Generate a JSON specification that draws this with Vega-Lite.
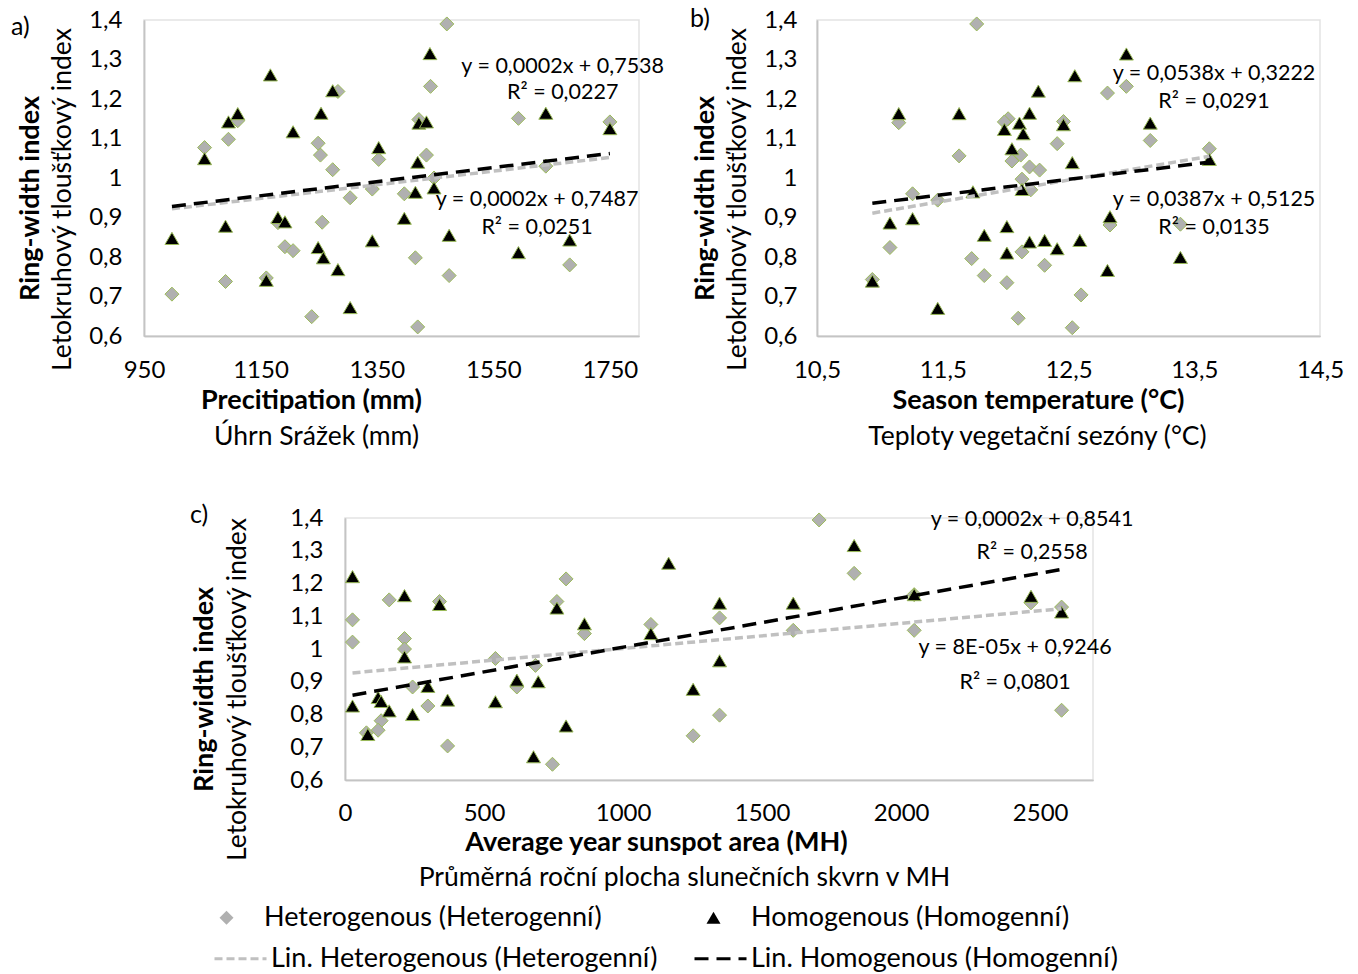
{
  "$schema": "https://vega.github.io/schema/vega-lite/v6.json",
  "autosize": {"type": "none"},
  "padding": {"left": 144, "top": 20, "right": 1214, "bottom": 954},
  "bounds": "flush",
  "spacing": 498,
  "config": {
    "font": "Lato",
    "view": {"stroke": "#e3e3e3", "strokeWidth": 1.5},
    "axis": {"grid": false, "ticks": false, "tickSize": 0, "labelFont": "Lato", "labelFontSize": 24, "labelColor": "#000000", "titleFont": "Lato", "titleFontSize": 26.5, "titleColor": "#000000", "domainColor": "#c4c4c4", "domainWidth": 1.5, "labelFlush": false, "labelOverlap": false},
    "title": {"font": "Lato", "fontSize": 25, "fontWeight": "normal", "color": "#000000"},
    "legend": {"labelFont": "Lato", "labelFontSize": 27, "labelColor": "#000000", "labelLimit": 600}
  },
  "datasets": {
    "a_pts": [
      {"series": "Heterogenous (Heterogenní)", "x": 1470, "y": 1.39},
      {"series": "Heterogenous (Heterogenní)", "x": 1442, "y": 1.232},
      {"series": "Heterogenous (Heterogenní)", "x": 1283, "y": 1.219},
      {"series": "Heterogenous (Heterogenní)", "x": 1111, "y": 1.145},
      {"series": "Heterogenous (Heterogenní)", "x": 1593, "y": 1.151},
      {"series": "Heterogenous (Heterogenní)", "x": 1422, "y": 1.148},
      {"series": "Heterogenous (Heterogenní)", "x": 1750, "y": 1.142},
      {"series": "Heterogenous (Heterogenní)", "x": 1095, "y": 1.098},
      {"series": "Heterogenous (Heterogenní)", "x": 1054, "y": 1.077},
      {"series": "Heterogenous (Heterogenní)", "x": 1249, "y": 1.088},
      {"series": "Heterogenous (Heterogenní)", "x": 1253, "y": 1.058},
      {"series": "Heterogenous (Heterogenní)", "x": 1435, "y": 1.058},
      {"series": "Heterogenous (Heterogenní)", "x": 1274, "y": 1.021},
      {"series": "Heterogenous (Heterogenní)", "x": 1353, "y": 1.047},
      {"series": "Heterogenous (Heterogenní)", "x": 1640, "y": 1.03},
      {"series": "Heterogenous (Heterogenní)", "x": 1448, "y": 1.0},
      {"series": "Heterogenous (Heterogenní)", "x": 1342, "y": 0.972},
      {"series": "Heterogenous (Heterogenní)", "x": 1397, "y": 0.96},
      {"series": "Heterogenous (Heterogenní)", "x": 1304, "y": 0.95},
      {"series": "Heterogenous (Heterogenní)", "x": 1256, "y": 0.888},
      {"series": "Heterogenous (Heterogenní)", "x": 1180, "y": 0.887},
      {"series": "Heterogenous (Heterogenní)", "x": 1192, "y": 0.826},
      {"series": "Heterogenous (Heterogenní)", "x": 1206, "y": 0.816},
      {"series": "Heterogenous (Heterogenní)", "x": 1416, "y": 0.798},
      {"series": "Heterogenous (Heterogenní)", "x": 1681, "y": 0.78},
      {"series": "Heterogenous (Heterogenní)", "x": 1474, "y": 0.753},
      {"series": "Heterogenous (Heterogenní)", "x": 1090, "y": 0.738},
      {"series": "Heterogenous (Heterogenní)", "x": 1160, "y": 0.747},
      {"series": "Heterogenous (Heterogenní)", "x": 998, "y": 0.706},
      {"series": "Heterogenous (Heterogenní)", "x": 1238, "y": 0.649},
      {"series": "Heterogenous (Heterogenní)", "x": 1420, "y": 0.623},
      {"series": "Homogenous (Homogenní)", "x": 1441, "y": 1.315},
      {"series": "Homogenous (Homogenní)", "x": 1167, "y": 1.261},
      {"series": "Homogenous (Homogenní)", "x": 1274, "y": 1.221},
      {"series": "Homogenous (Homogenní)", "x": 1111, "y": 1.163},
      {"series": "Homogenous (Homogenní)", "x": 1254, "y": 1.164},
      {"series": "Homogenous (Homogenní)", "x": 1095, "y": 1.142},
      {"series": "Homogenous (Homogenní)", "x": 1640, "y": 1.164},
      {"series": "Homogenous (Homogenní)", "x": 1422, "y": 1.139},
      {"series": "Homogenous (Homogenní)", "x": 1435, "y": 1.142},
      {"series": "Homogenous (Homogenní)", "x": 1206, "y": 1.117},
      {"series": "Homogenous (Homogenní)", "x": 1750, "y": 1.125},
      {"series": "Homogenous (Homogenní)", "x": 1353, "y": 1.077},
      {"series": "Homogenous (Homogenní)", "x": 1054, "y": 1.049},
      {"series": "Homogenous (Homogenní)", "x": 1420, "y": 1.04},
      {"series": "Homogenous (Homogenní)", "x": 1448, "y": 0.975},
      {"series": "Homogenous (Homogenní)", "x": 1416, "y": 0.964},
      {"series": "Homogenous (Homogenní)", "x": 1180, "y": 0.9},
      {"series": "Homogenous (Homogenní)", "x": 1192, "y": 0.889},
      {"series": "Homogenous (Homogenní)", "x": 1397, "y": 0.898},
      {"series": "Homogenous (Homogenní)", "x": 1090, "y": 0.878},
      {"series": "Homogenous (Homogenní)", "x": 998, "y": 0.847},
      {"series": "Homogenous (Homogenní)", "x": 1474, "y": 0.855},
      {"series": "Homogenous (Homogenní)", "x": 1342, "y": 0.841},
      {"series": "Homogenous (Homogenní)", "x": 1681, "y": 0.843},
      {"series": "Homogenous (Homogenní)", "x": 1249, "y": 0.824},
      {"series": "Homogenous (Homogenní)", "x": 1258, "y": 0.798},
      {"series": "Homogenous (Homogenní)", "x": 1593, "y": 0.811},
      {"series": "Homogenous (Homogenní)", "x": 1283, "y": 0.768},
      {"series": "Homogenous (Homogenní)", "x": 1160, "y": 0.741},
      {"series": "Homogenous (Homogenní)", "x": 1304, "y": 0.672}
    ],
    "b_pts": [
      {"series": "Heterogenous (Heterogenní)", "x": 11.77, "y": 1.39},
      {"series": "Heterogenous (Heterogenní)", "x": 12.96, "y": 1.232},
      {"series": "Heterogenous (Heterogenní)", "x": 12.81, "y": 1.215},
      {"series": "Heterogenous (Heterogenní)", "x": 11.15, "y": 1.14},
      {"series": "Heterogenous (Heterogenní)", "x": 12.02, "y": 1.15},
      {"series": "Heterogenous (Heterogenní)", "x": 11.99, "y": 1.142},
      {"series": "Heterogenous (Heterogenní)", "x": 12.46, "y": 1.143},
      {"series": "Heterogenous (Heterogenní)", "x": 12.41, "y": 1.087},
      {"series": "Heterogenous (Heterogenní)", "x": 13.15, "y": 1.095},
      {"series": "Heterogenous (Heterogenní)", "x": 13.62, "y": 1.074},
      {"series": "Heterogenous (Heterogenní)", "x": 11.63, "y": 1.056},
      {"series": "Heterogenous (Heterogenní)", "x": 12.12, "y": 1.058},
      {"series": "Heterogenous (Heterogenní)", "x": 12.05, "y": 1.043},
      {"series": "Heterogenous (Heterogenní)", "x": 12.19, "y": 1.028},
      {"series": "Heterogenous (Heterogenní)", "x": 12.27, "y": 1.02},
      {"series": "Heterogenous (Heterogenní)", "x": 12.13, "y": 0.997},
      {"series": "Heterogenous (Heterogenní)", "x": 12.2, "y": 0.97},
      {"series": "Heterogenous (Heterogenní)", "x": 11.26, "y": 0.96},
      {"series": "Heterogenous (Heterogenní)", "x": 11.46, "y": 0.944},
      {"series": "Heterogenous (Heterogenní)", "x": 12.83, "y": 0.881},
      {"series": "Heterogenous (Heterogenní)", "x": 13.39, "y": 0.883},
      {"series": "Heterogenous (Heterogenní)", "x": 11.08, "y": 0.824},
      {"series": "Heterogenous (Heterogenní)", "x": 12.13, "y": 0.813},
      {"series": "Heterogenous (Heterogenní)", "x": 11.73, "y": 0.796},
      {"series": "Heterogenous (Heterogenní)", "x": 12.31, "y": 0.779},
      {"series": "Heterogenous (Heterogenní)", "x": 11.83, "y": 0.753},
      {"series": "Heterogenous (Heterogenní)", "x": 10.94, "y": 0.743},
      {"series": "Heterogenous (Heterogenní)", "x": 12.01, "y": 0.735},
      {"series": "Heterogenous (Heterogenní)", "x": 12.6, "y": 0.704},
      {"series": "Heterogenous (Heterogenní)", "x": 12.1, "y": 0.645},
      {"series": "Heterogenous (Heterogenní)", "x": 12.53, "y": 0.621},
      {"series": "Homogenous (Homogenní)", "x": 12.96, "y": 1.314},
      {"series": "Homogenous (Homogenní)", "x": 12.55, "y": 1.259},
      {"series": "Homogenous (Homogenní)", "x": 12.26, "y": 1.22},
      {"series": "Homogenous (Homogenní)", "x": 11.15, "y": 1.163},
      {"series": "Homogenous (Homogenní)", "x": 11.63, "y": 1.163},
      {"series": "Homogenous (Homogenní)", "x": 12.19, "y": 1.164},
      {"series": "Homogenous (Homogenní)", "x": 12.11, "y": 1.139},
      {"series": "Homogenous (Homogenní)", "x": 12.46, "y": 1.135},
      {"series": "Homogenous (Homogenní)", "x": 13.15, "y": 1.139},
      {"series": "Homogenous (Homogenní)", "x": 11.99, "y": 1.123},
      {"series": "Homogenous (Homogenní)", "x": 12.14, "y": 1.112},
      {"series": "Homogenous (Homogenní)", "x": 12.05, "y": 1.074},
      {"series": "Homogenous (Homogenní)", "x": 12.53, "y": 1.039},
      {"series": "Homogenous (Homogenní)", "x": 13.62, "y": 1.047},
      {"series": "Homogenous (Homogenní)", "x": 11.74, "y": 0.965},
      {"series": "Homogenous (Homogenní)", "x": 12.13, "y": 0.971},
      {"series": "Homogenous (Homogenní)", "x": 11.08, "y": 0.886},
      {"series": "Homogenous (Homogenní)", "x": 11.26, "y": 0.897},
      {"series": "Homogenous (Homogenní)", "x": 12.83, "y": 0.902},
      {"series": "Homogenous (Homogenní)", "x": 12.01, "y": 0.877},
      {"series": "Homogenous (Homogenní)", "x": 11.83, "y": 0.855},
      {"series": "Homogenous (Homogenní)", "x": 12.19, "y": 0.838},
      {"series": "Homogenous (Homogenní)", "x": 12.31, "y": 0.842},
      {"series": "Homogenous (Homogenní)", "x": 12.59, "y": 0.842},
      {"series": "Homogenous (Homogenní)", "x": 12.41, "y": 0.821},
      {"series": "Homogenous (Homogenní)", "x": 12.01, "y": 0.81},
      {"series": "Homogenous (Homogenní)", "x": 13.39, "y": 0.799},
      {"series": "Homogenous (Homogenní)", "x": 12.81, "y": 0.766},
      {"series": "Homogenous (Homogenní)", "x": 10.94, "y": 0.739},
      {"series": "Homogenous (Homogenní)", "x": 11.46, "y": 0.67}
    ],
    "c_pts": [
      {"series": "Heterogenous (Heterogenní)", "x": 1705, "y": 1.394},
      {"series": "Heterogenous (Heterogenní)", "x": 1831, "y": 1.231},
      {"series": "Heterogenous (Heterogenní)", "x": 795, "y": 1.214},
      {"series": "Heterogenous (Heterogenní)", "x": 159, "y": 1.15},
      {"series": "Heterogenous (Heterogenní)", "x": 340, "y": 1.145},
      {"series": "Heterogenous (Heterogenní)", "x": 762, "y": 1.145},
      {"series": "Heterogenous (Heterogenní)", "x": 2467, "y": 1.141},
      {"series": "Heterogenous (Heterogenní)", "x": 2047, "y": 1.166},
      {"series": "Heterogenous (Heterogenní)", "x": 27, "y": 1.089},
      {"series": "Heterogenous (Heterogenní)", "x": 1347, "y": 1.095},
      {"series": "Heterogenous (Heterogenní)", "x": 1100, "y": 1.075},
      {"series": "Heterogenous (Heterogenní)", "x": 861, "y": 1.047},
      {"series": "Heterogenous (Heterogenní)", "x": 1612, "y": 1.057},
      {"series": "Heterogenous (Heterogenní)", "x": 2047, "y": 1.057},
      {"series": "Heterogenous (Heterogenní)", "x": 214, "y": 1.032},
      {"series": "Heterogenous (Heterogenní)", "x": 27, "y": 1.021},
      {"series": "Heterogenous (Heterogenní)", "x": 214, "y": 1.0},
      {"series": "Heterogenous (Heterogenní)", "x": 541, "y": 0.971},
      {"series": "Heterogenous (Heterogenní)", "x": 685, "y": 0.95},
      {"series": "Heterogenous (Heterogenní)", "x": 243, "y": 0.884},
      {"series": "Heterogenous (Heterogenní)", "x": 618, "y": 0.884},
      {"series": "Heterogenous (Heterogenní)", "x": 298, "y": 0.826},
      {"series": "Heterogenous (Heterogenní)", "x": 1347, "y": 0.798},
      {"series": "Heterogenous (Heterogenní)", "x": 2577, "y": 0.813},
      {"series": "Heterogenous (Heterogenní)", "x": 130, "y": 0.781},
      {"series": "Heterogenous (Heterogenní)", "x": 119, "y": 0.752},
      {"series": "Heterogenous (Heterogenní)", "x": 77, "y": 0.744},
      {"series": "Heterogenous (Heterogenní)", "x": 1252, "y": 0.735},
      {"series": "Heterogenous (Heterogenní)", "x": 369, "y": 0.704},
      {"series": "Heterogenous (Heterogenní)", "x": 746, "y": 0.648},
      {"series": "Heterogenous (Heterogenní)", "x": 2577, "y": 1.128},
      {"series": "Homogenous (Homogenní)", "x": 1831, "y": 1.316},
      {"series": "Homogenous (Homogenní)", "x": 1164, "y": 1.262},
      {"series": "Homogenous (Homogenní)", "x": 27, "y": 1.221},
      {"series": "Homogenous (Homogenní)", "x": 214, "y": 1.163},
      {"series": "Homogenous (Homogenní)", "x": 2047, "y": 1.166},
      {"series": "Homogenous (Homogenní)", "x": 2467, "y": 1.161},
      {"series": "Homogenous (Homogenní)", "x": 340, "y": 1.136},
      {"series": "Homogenous (Homogenní)", "x": 1347, "y": 1.14},
      {"series": "Homogenous (Homogenní)", "x": 1612, "y": 1.14},
      {"series": "Homogenous (Homogenní)", "x": 762, "y": 1.125},
      {"series": "Homogenous (Homogenní)", "x": 2577, "y": 1.113},
      {"series": "Homogenous (Homogenní)", "x": 861, "y": 1.077},
      {"series": "Homogenous (Homogenní)", "x": 1100, "y": 1.047},
      {"series": "Homogenous (Homogenní)", "x": 214, "y": 0.976},
      {"series": "Homogenous (Homogenní)", "x": 1347, "y": 0.964},
      {"series": "Homogenous (Homogenní)", "x": 618, "y": 0.905},
      {"series": "Homogenous (Homogenní)", "x": 695, "y": 0.9},
      {"series": "Homogenous (Homogenní)", "x": 298, "y": 0.886},
      {"series": "Homogenous (Homogenní)", "x": 1252, "y": 0.877},
      {"series": "Homogenous (Homogenní)", "x": 119, "y": 0.852},
      {"series": "Homogenous (Homogenní)", "x": 130, "y": 0.84},
      {"series": "Homogenous (Homogenní)", "x": 159, "y": 0.811},
      {"series": "Homogenous (Homogenní)", "x": 27, "y": 0.826},
      {"series": "Homogenous (Homogenní)", "x": 369, "y": 0.844},
      {"series": "Homogenous (Homogenní)", "x": 541, "y": 0.839},
      {"series": "Homogenous (Homogenní)", "x": 243, "y": 0.8},
      {"series": "Homogenous (Homogenní)", "x": 795, "y": 0.765},
      {"series": "Homogenous (Homogenní)", "x": 82, "y": 0.739},
      {"series": "Homogenous (Homogenní)", "x": 678, "y": 0.671}
    ],
    "a_trend": [
      {"trend": "Lin. Heterogenous (Heterogenní)", "x": 998, "y": 0.922},
      {"trend": "Lin. Heterogenous (Heterogenní)", "x": 1750, "y": 1.052},
      {"trend": "Lin. Homogenous (Homogenní)", "x": 998, "y": 0.928},
      {"trend": "Lin. Homogenous (Homogenní)", "x": 1750, "y": 1.062}
    ],
    "b_trend": [
      {"trend": "Lin. Heterogenous (Heterogenní)", "x": 10.94, "y": 0.911},
      {"trend": "Lin. Heterogenous (Heterogenní)", "x": 13.62, "y": 1.055},
      {"trend": "Lin. Homogenous (Homogenní)", "x": 10.94, "y": 0.936},
      {"trend": "Lin. Homogenous (Homogenní)", "x": 13.62, "y": 1.04}
    ],
    "c_trend": [
      {"trend": "Lin. Heterogenous (Heterogenní)", "x": 27, "y": 0.927},
      {"trend": "Lin. Heterogenous (Heterogenní)", "x": 2577, "y": 1.123},
      {"trend": "Lin. Homogenous (Homogenní)", "x": 27, "y": 0.859},
      {"trend": "Lin. Homogenous (Homogenní)", "x": 2577, "y": 1.243}
    ],
    "a_lab": [
      {"t": "y = 0,0002x + 0,7538", "x": 1669, "y": 1.281},
      {"t": "R² = 0,0227", "x": 1669, "y": 1.215},
      {"t": "y = 0,0002x + 0,7487", "x": 1625, "y": 0.944},
      {"t": "R² = 0,0251", "x": 1625, "y": 0.873}
    ],
    "b_lab": [
      {"t": "y = 0,0538x + 0,3222", "x": 13.657, "y": 1.263},
      {"t": "R² = 0,0291", "x": 13.657, "y": 1.192},
      {"t": "y = 0,0387x + 0,5125", "x": 13.657, "y": 0.944},
      {"t": "R² = 0,0135", "x": 13.657, "y": 0.873}
    ],
    "c_lab": [
      {"t": "y = 0,0002x + 0,8541", "x": 2471, "y": 1.394},
      {"t": "R² = 0,2558", "x": 2471, "y": 1.293},
      {"t": "y = 8E-05x + 0,9246", "x": 2410, "y": 1.003},
      {"t": "R² = 0,0801", "x": 2410, "y": 0.896}
    ]
  },
  "vconcat": [
    {
      "bounds": "flush",
      "spacing": 178,
      "hconcat": [
        {
          "width": 495, "height": 316,
          "title": {"text": "a)", "anchor": "start", "frame": "group", "orient": "top", "offset": 0, "dx": -133, "dy": 44, "baseline": "middle"},
          "resolve": {"axis": {"x": "independent", "y": "independent"}},
          "layer": [
            {
              "data": {"name": "a_pts"},
              "mark": {"type": "point", "filled": true, "size": 196, "stroke": "#9bbb59", "strokeWidth": 1, "opacity": 1},
              "encoding": {
                "x": {"field": "x", "type": "quantitative", "scale": {"domain": [950, 1800], "nice": false, "zero": false}, "axis": {"orient": "bottom", "values": [950, 1150, 1350, 1550, 1750], "format": "d", "title": "Precitipation (mm)", "titleFontWeight": "bold", "titleFontSize": 27, "labelPadding": 22, "titlePadding": 5, "titleX": 167}},
                "y": {"field": "y", "type": "quantitative", "scale": {"domain": [0.6, 1.4], "nice": false, "zero": false}, "axis": {"orient": "left", "values": [0.6, 0.7, 0.8, 0.9, 1, 1.1, 1.2, 1.3, 1.4], "labelExpr": "replace(format(datum.value, '.1~f'), '.', ',')", "title": "Letokruhový tloušťkový index", "titleFontWeight": "normal", "labelPadding": 22, "titlePadding": 12, "titleY": 179}},
                "shape": {"field": "series", "type": "nominal", "scale": {"domain": ["Heterogenous (Heterogenní)", "Homogenous (Homogenní)"], "range": ["diamond", "triangle-up"]}, "legend": {"orient": "none", "legendX": 69, "legendY": 884, "direction": "horizontal", "title": null, "symbolSize": 196, "labelOffset": 24, "columnPadding": 98, "symbolStrokeColor": "#9bbb59", "symbolStrokeWidth": 1}},
                "fill": {"field": "series", "type": "nominal", "scale": {"domain": ["Heterogenous (Heterogenní)", "Homogenous (Homogenní)"], "range": ["#b0b0b0", "#000000"]}, "legend": {"orient": "none", "legendX": 69, "legendY": 884, "direction": "horizontal", "title": null, "symbolSize": 196, "labelOffset": 24, "columnPadding": 98, "symbolStrokeColor": "#9bbb59", "symbolStrokeWidth": 1}}
              }
            },
            {
              "data": {"name": "a_trend"},
              "mark": {"type": "line", "strokeWidth": 3.5},
              "encoding": {
                "x": {"field": "x", "type": "quantitative", "axis": {"orient": "bottom", "labels": false, "title": "Úhrn Srážek (mm)", "titleFontWeight": "normal", "titlePadding": 87, "titleX": 172}},
                "y": {"field": "y", "type": "quantitative", "axis": {"orient": "left", "labels": false, "title": "Ring-width index", "titleFontWeight": "bold", "titleFontSize": 27, "titlePadding": 100, "titleY": 178}},
                "stroke": {"field": "trend", "type": "nominal", "scale": {"domain": ["Lin. Heterogenous (Heterogenní)", "Lin. Homogenous (Homogenní)"], "range": ["#c0c0c0", "#000000"]}, "legend": {"orient": "none", "legendX": 69, "legendY": 911, "direction": "horizontal", "title": null, "symbolType": "stroke", "symbolSize": 2704, "symbolStrokeWidth": 3, "labelOffset": 3, "columnPadding": 30}},
                "strokeDash": {"field": "trend", "type": "nominal", "scale": {"domain": ["Lin. Heterogenous (Heterogenní)", "Lin. Homogenous (Homogenní)"], "range": [[8, 4], [14, 8]]}, "legend": {"orient": "none", "legendX": 69, "legendY": 911, "direction": "horizontal", "title": null, "symbolType": "stroke", "symbolSize": 2704, "symbolStrokeWidth": 3, "labelOffset": 3, "columnPadding": 30}}
              }
            },
            {
              "data": {"name": "a_lab"},
              "mark": {"type": "text", "fontSize": 21.5, "align": "center", "baseline": "middle", "color": "#000000"},
              "encoding": {
                "x": {"field": "x", "type": "quantitative", "axis": null},
                "y": {"field": "y", "type": "quantitative", "axis": null},
                "text": {"field": "t"}
              }
            }
          ]
        },
        {
          "width": 503, "height": 316,
          "title": {"text": "b)", "anchor": "start", "frame": "group", "orient": "top", "offset": 0, "dx": -127, "dy": 36, "baseline": "middle"},
          "resolve": {"axis": {"x": "independent", "y": "independent"}},
          "layer": [
            {
              "data": {"name": "b_pts"},
              "mark": {"type": "point", "filled": true, "size": 196, "stroke": "#9bbb59", "strokeWidth": 1, "opacity": 1},
              "encoding": {
                "x": {"field": "x", "type": "quantitative", "scale": {"domain": [10.5, 14.5], "nice": false, "zero": false}, "axis": {"orient": "bottom", "values": [10.5, 11.5, 12.5, 13.5, 14.5], "labelExpr": "replace(format(datum.value, '.1f'), '.', ',')", "title": "Season temperature (°C)", "titleFontWeight": "bold", "titleFontSize": 27, "labelPadding": 22, "titlePadding": 5, "titleX": 221}},
                "y": {"field": "y", "type": "quantitative", "scale": {"domain": [0.6, 1.4], "nice": false, "zero": false}, "axis": {"orient": "left", "values": [0.6, 0.7, 0.8, 0.9, 1, 1.1, 1.2, 1.3, 1.4], "labelExpr": "replace(format(datum.value, '.1~f'), '.', ',')", "title": "Letokruhový tloušťkový index", "titleFontWeight": "normal", "labelPadding": 20, "titlePadding": 12, "titleY": 179}},
                "shape": {"field": "series", "type": "nominal"},
                "fill": {"field": "series", "type": "nominal"}
              }
            },
            {
              "data": {"name": "b_trend"},
              "mark": {"type": "line", "strokeWidth": 3.5},
              "encoding": {
                "x": {"field": "x", "type": "quantitative", "axis": {"orient": "bottom", "labels": false, "title": "Teploty vegetační sezóny (°C)", "titleFontWeight": "normal", "titlePadding": 87, "titleX": 220}},
                "y": {"field": "y", "type": "quantitative", "axis": {"orient": "left", "labels": false, "title": "Ring-width index", "titleFontWeight": "bold", "titleFontSize": 27, "titlePadding": 98, "titleY": 178}},
                "stroke": {"field": "trend", "type": "nominal"},
                "strokeDash": {"field": "trend", "type": "nominal"}
              }
            },
            {
              "data": {"name": "b_lab"},
              "mark": {"type": "text", "fontSize": 21.5, "align": "center", "baseline": "middle", "color": "#000000"},
              "encoding": {
                "x": {"field": "x", "type": "quantitative", "axis": null},
                "y": {"field": "y", "type": "quantitative", "axis": null},
                "text": {"field": "t"}
              }
            }
          ]
        }
      ]
    },
    {
      "bounds": "flush",
      "spacing": 200,
      "hconcat": [
        {
          "width": 1, "height": 1,
          "data": {"values": [{"k": 1}]},
          "mark": {"type": "point", "opacity": 0},
          "view": {"stroke": null}
        },
        {
          "width": 748, "height": 262,
          "title": {"text": "c)", "anchor": "start", "frame": "group", "orient": "top", "offset": 0, "dx": -155, "dy": 34, "baseline": "middle"},
          "resolve": {"axis": {"x": "independent", "y": "independent"}},
          "layer": [
            {
              "data": {"name": "c_pts"},
              "mark": {"type": "point", "filled": true, "size": 196, "stroke": "#9bbb59", "strokeWidth": 1, "opacity": 1},
              "encoding": {
                "x": {"field": "x", "type": "quantitative", "scale": {"domain": [0, 2690], "nice": false, "zero": false}, "axis": {"orient": "bottom", "values": [0, 500, 1000, 1500, 2000, 2500], "format": "d", "title": "Average year sunspot area (MH)", "titleFontWeight": "bold", "titleFontSize": 27, "labelPadding": 21, "titlePadding": 4, "titleX": 311}},
                "y": {"field": "y", "type": "quantitative", "scale": {"domain": [0.6, 1.4], "nice": false, "zero": false}, "axis": {"orient": "left", "values": [0.6, 0.7, 0.8, 0.9, 1, 1.1, 1.2, 1.3, 1.4], "labelExpr": "replace(format(datum.value, '.1~f'), '.', ',')", "title": "Letokruhový tloušťkový index", "titleFontWeight": "normal", "labelPadding": 22, "titlePadding": 38, "titleY": 171}},
                "shape": {"field": "series", "type": "nominal"},
                "fill": {"field": "series", "type": "nominal"}
              }
            },
            {
              "data": {"name": "c_trend"},
              "mark": {"type": "line", "strokeWidth": 3.5},
              "encoding": {
                "x": {"field": "x", "type": "quantitative", "axis": {"orient": "bottom", "labels": false, "title": "Průměrná roční plocha slunečních skvrn v MH", "titleFontWeight": "normal", "titlePadding": 84, "titleX": 339}},
                "y": {"field": "y", "type": "quantitative", "axis": {"orient": "left", "labels": false, "title": "Ring-width index", "titleFontWeight": "bold", "titleFontSize": 27, "titlePadding": 127, "titleY": 171}},
                "stroke": {"field": "trend", "type": "nominal"},
                "strokeDash": {"field": "trend", "type": "nominal"}
              }
            },
            {
              "data": {"name": "c_lab"},
              "mark": {"type": "text", "fontSize": 21.5, "align": "center", "baseline": "middle", "color": "#000000"},
              "encoding": {
                "x": {"field": "x", "type": "quantitative", "axis": null},
                "y": {"field": "y", "type": "quantitative", "axis": null},
                "text": {"field": "t"}
              }
            }
          ]
        }
      ]
    }
  ]
}
